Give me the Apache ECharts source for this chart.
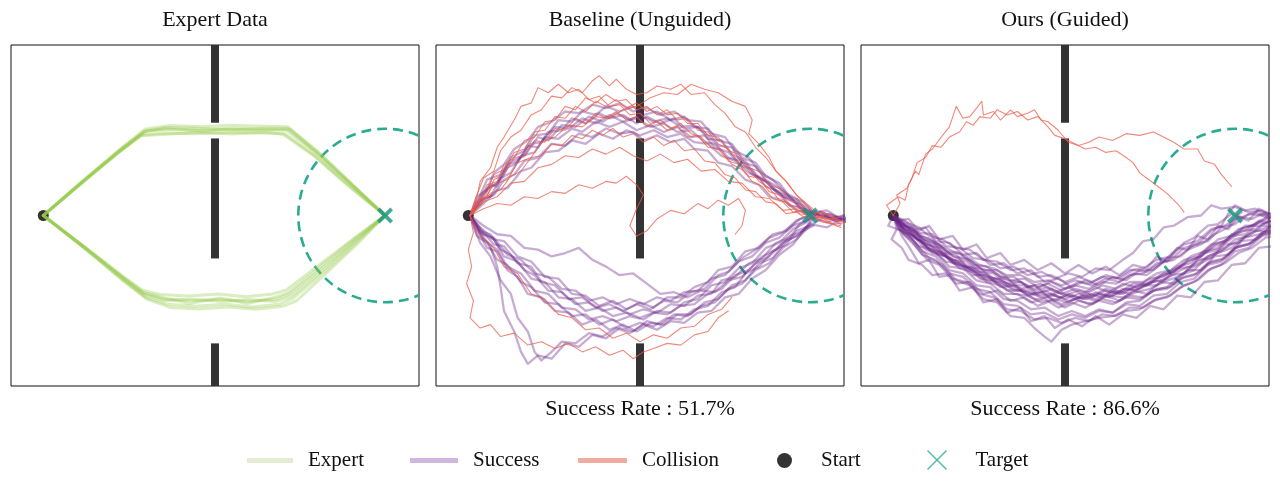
<!DOCTYPE html>
<html><head><meta charset="utf-8">
<script src="https://cdn.jsdelivr.net/npm/echarts@6/dist/echarts.min.js"></script>
<style>html,body{margin:0;padding:0;background:#fff}#c{width:1280px;height:490px}</style>
</head><body><div id="c"></div>
<script>
// ---------- data ----------
const panelTitles = ['Expert Data', 'Baseline (Unguided)', 'Ours (Guided)'];
const successRateTexts = [null, 'Success Rate : 51.7%', 'Success Rate : 86.6%'];
const legendNames = ['Expert', 'Success', 'Collision', 'Start', 'Target'];
const startPoint = [0.95, 0];
const targetPoint = [11, 0];
const targetRadius = 2.55;
const wallX = 6;
const wallSegments = [[5, 2.72], [2.26, -1.26], [-3.75, -5]];

// Trajectories: flat [x, y, x, y, ...] lists
const expertTrajs = [
  [0.95,0, 2.1,0.98, 3.2,1.9, 3.9,2.45, 4.6,2.55, 5.5,2.5, 6.5,2.56, 7.5,2.52, 8.1,2.5, 9.0,1.8, 10.0,0.9, 11.0,0],
  [0.95,0, 2.1,1.02, 3.25,1.98, 3.95,2.54, 4.7,2.64, 5.6,2.6, 6.4,2.65, 7.4,2.62, 8.15,2.6, 9.1,1.8, 10.05,0.9, 11.0,0],
  [0.95,0, 2.05,0.95, 3.15,1.84, 3.85,2.36, 4.5,2.42, 5.4,2.4, 6.6,2.44, 7.6,2.41, 8.05,2.4, 8.95,1.74, 9.95,0.86, 11.0,0],
  [0.95,0, 2.15,1.0, 3.3,1.95, 4.0,2.5, 4.8,2.52, 5.7,2.47, 6.3,2.53, 7.3,2.5, 8.2,2.53, 9.05,1.84, 10.0,0.94, 11.0,0],
  [0.95,0, 2.1,0.97, 3.2,1.92, 3.92,2.46, 4.55,2.58, 5.5,2.56, 6.5,2.51, 7.5,2.56, 8.12,2.56, 9.0,1.82, 10.02,0.9, 11.0,0],
  [0.95,0, 2.0,0.9, 3.1,1.82, 3.8,2.34, 4.6,2.38, 5.5,2.44, 6.5,2.39, 7.5,2.44, 8.0,2.38, 8.95,1.72, 9.95,0.85, 11.0,0],
  [0.95,0, 2.2,-0.95, 3.3,-1.82, 3.9,-2.28, 4.5,-2.45, 5.3,-2.5, 6.2,-2.46, 7.0,-2.52, 7.8,-2.45, 8.2,-2.3, 9.2,-1.5, 10.1,-0.75, 11.0,0],
  [0.95,0, 2.2,-1.0, 3.3,-1.9, 3.95,-2.4, 4.6,-2.6, 5.4,-2.66, 6.3,-2.6, 7.1,-2.68, 7.9,-2.6, 8.3,-2.42, 9.3,-1.58, 10.15,-0.8, 11.0,0],
  [0.95,0, 2.15,-0.9, 3.25,-1.75, 3.85,-2.18, 4.4,-2.32, 5.2,-2.36, 6.1,-2.3, 6.9,-2.38, 7.7,-2.3, 8.1,-2.18, 9.1,-1.42, 10.05,-0.7, 11.0,0],
  [0.95,0, 2.25,-1.02, 3.35,-1.95, 4.0,-2.45, 4.7,-2.7, 5.5,-2.74, 6.4,-2.68, 7.2,-2.75, 8.0,-2.66, 8.4,-2.5, 9.35,-1.62, 10.2,-0.82, 11.0,0],
  [0.95,0, 2.2,-0.97, 3.3,-1.86, 3.92,-2.32, 4.5,-2.5, 5.3,-2.45, 6.2,-2.52, 7.0,-2.46, 7.8,-2.52, 8.25,-2.36, 9.25,-1.54, 10.1,-0.78, 11.0,0],
  [0.95,0, 2.15,-0.93, 3.28,-1.8, 3.88,-2.25, 4.45,-2.4, 5.25,-2.58, 6.15,-2.42, 6.95,-2.58, 7.75,-2.4, 8.15,-2.26, 9.15,-1.46, 10.05,-0.72, 11.0,0]
];

const baselineSuccess = [
  [1.0,0, 1.3,0.35, 1.6,0.9, 1.8,0.85, 2.1,1.4, 2.4,1.55, 2.7,2.05, 3.0,2.0, 3.3,2.45, 3.7,2.5, 4.0,2.85, 4.4,2.7, 4.8,3.0, 5.1,2.85, 5.5,2.95, 5.9,2.7, 6.2,2.9, 6.6,2.7, 7.0,2.85, 7.3,2.55, 7.7,2.6, 8.0,2.25, 8.4,2.2, 8.7,1.8, 9.1,1.6, 9.4,1.15, 9.8,0.95, 10.2,0.55, 10.6,0.35, 10.9,0.05, 11.3,0.1, 11.7,-0.15, 12.1,-0.1],
  [1.0,0, 1.4,0.5, 1.7,0.6, 2.0,1.05, 2.3,1.2, 2.6,1.6, 3.0,1.7, 3.4,2.1, 3.8,2.05, 4.2,2.4, 4.6,2.3, 5.0,2.55, 5.4,2.4, 5.8,2.45, 6.1,2.2, 6.5,2.35, 6.9,2.15, 7.3,2.25, 7.6,1.95, 8.0,1.9, 8.3,1.55, 8.7,1.45, 9.1,1.05, 9.5,0.9, 9.8,0.55, 10.2,0.45, 10.6,0.15, 11.0,0.05],
  [1.0,0, 1.2,0.55, 1.5,0.75, 1.7,1.25, 2.0,1.5, 2.3,1.95, 2.7,2.2, 3.0,2.6, 3.4,2.75, 3.8,3.05, 4.2,3.0, 4.6,3.25, 5.0,3.15, 5.4,3.3, 5.8,3.05, 6.2,3.15, 6.6,2.95, 7.0,3.05, 7.4,2.8, 7.8,2.75, 8.1,2.4, 8.5,2.3, 8.8,1.9, 9.2,1.7, 9.5,1.3, 9.9,1.05, 10.3,0.65, 10.6,0.5, 10.9,0.15, 11.2,0.0, 11.6,0.05, 12.1,-0.2],
  [1.0,0, 1.3,0.45, 1.6,0.55, 1.9,1.1, 2.2,1.25, 2.5,1.75, 2.9,1.85, 3.2,2.3, 3.6,2.25, 4.0,2.55, 4.3,2.45, 4.7,2.75, 5.1,2.6, 5.5,2.75, 5.9,2.5, 6.3,2.65, 6.7,2.45, 7.1,2.6, 7.5,2.3, 7.9,2.35, 8.2,2.0, 8.6,1.85, 9.0,1.45, 9.3,1.35, 9.7,0.85, 10.1,0.7, 10.4,0.3, 10.8,0.2, 11.1,-0.05, 11.5,0.0, 11.9,-0.25],
  [1.0,0, 1.4,0.7, 1.8,0.95, 2.2,1.6, 2.6,1.75, 3.0,2.3, 3.3,2.2, 3.7,2.65, 4.1,2.6, 4.5,2.9, 4.9,2.75, 5.3,3.0, 5.7,2.8, 6.0,2.95, 6.4,2.75, 6.8,2.85, 7.2,2.6, 7.6,2.65, 8.0,2.35, 8.3,2.05, 8.7,2.0, 9.0,1.55, 9.4,1.45, 9.7,1.05, 10.1,0.8, 10.5,0.45, 10.8,0.3, 11.1,0.05],
  [1.0,0, 1.3,0.6, 1.5,1.05, 1.9,1.2, 2.2,1.7, 2.6,1.9, 2.9,2.35, 3.3,2.4, 3.6,2.8, 4.0,2.75, 4.3,3.05, 4.7,2.95, 5.0,3.2, 5.4,3.05, 5.8,3.2, 6.1,2.95, 6.5,3.05, 6.9,2.8, 7.3,2.9, 7.6,2.6, 8.0,2.55, 8.3,2.2, 8.7,2.1, 9.0,1.7, 9.4,1.55, 9.7,1.15, 10.1,0.95, 10.4,0.55, 10.8,0.4, 11.1,0.1, 11.5,0.15, 11.9,-0.1],
  [1.0,0, 1.4,0.35, 1.8,0.75, 2.1,0.8, 2.5,1.3, 2.8,1.4, 3.2,1.85, 3.6,1.9, 4.0,2.2, 4.4,2.1, 4.8,2.4, 5.2,2.25, 5.6,2.5, 6.0,2.35, 6.4,2.5, 6.8,2.3, 7.2,2.4, 7.6,2.15, 8.0,2.1, 8.4,1.75, 8.8,1.6, 9.2,1.25, 9.6,1.1, 10.0,0.7, 10.4,0.55, 10.8,0.2, 11.1,0.1, 11.5,-0.1, 12.0,0.0],
  [1.0,0, 1.2,0.3, 1.5,0.8, 1.8,0.95, 2.1,1.5, 2.4,1.6, 2.8,2.1, 3.1,2.15, 3.5,2.6, 3.9,2.55, 4.3,2.85, 4.7,2.7, 5.1,2.95, 5.5,2.75, 5.9,2.85, 6.3,2.6, 6.7,2.7, 7.1,2.45, 7.5,2.5, 7.9,2.15, 8.2,2.1, 8.6,1.7, 9.0,1.6, 9.3,1.2, 9.7,1.0, 10.1,0.6, 10.5,0.45, 10.8,0.1, 11.2,0.05, 11.6,-0.1, 12.1,-0.05],
  [1.0,0, 1.3,-0.45, 1.6,-0.55, 1.9,-1.0, 2.2,-1.15, 2.6,-1.6, 2.9,-1.75, 3.3,-2.2, 3.7,-2.25, 4.1,-2.6, 4.5,-2.55, 4.9,-2.8, 5.3,-2.7, 5.7,-2.9, 6.1,-2.75, 6.5,-2.85, 6.9,-2.6, 7.3,-2.65, 7.7,-2.35, 8.1,-2.3, 8.4,-1.9, 8.8,-1.8, 9.2,-1.4, 9.6,-1.25, 10.0,-0.8, 10.4,-0.65, 10.7,-0.25, 11.0,-0.1],
  [1.0,0, 1.2,-0.6, 1.5,-0.8, 1.8,-1.3, 2.1,-1.45, 2.5,-1.95, 2.8,-2.1, 3.2,-2.55, 3.6,-2.6, 4.0,-2.95, 4.4,-2.9, 4.8,-3.2, 5.2,-3.05, 5.6,-3.3, 6.0,-3.15, 6.4,-3.25, 6.8,-3.0, 7.2,-3.05, 7.6,-2.75, 8.0,-2.65, 8.4,-2.25, 8.8,-2.1, 9.1,-1.7, 9.5,-1.5, 9.9,-1.05, 10.3,-0.85, 10.6,-0.45, 11.0,-0.3, 11.4,-0.05, 11.9,-0.15],
  [1.0,0, 1.4,-0.5, 1.7,-0.85, 2.0,-0.9, 2.4,-1.4, 2.8,-1.5, 3.1,-1.95, 3.5,-2.05, 3.9,-2.45, 4.3,-2.4, 4.7,-2.7, 5.1,-2.6, 5.5,-2.8, 5.9,-2.6, 6.3,-2.75, 6.7,-2.5, 7.1,-2.55, 7.5,-2.25, 7.9,-2.15, 8.3,-1.75, 8.6,-1.65, 9.0,-1.25, 9.4,-1.0, 9.8,-0.65, 10.2,-0.5, 10.6,-0.15, 11.0,0.0],
  [1.0,0, 1.3,-0.8, 1.6,-1.2, 1.9,-1.9, 2.2,-2.3, 2.4,-3.0, 2.7,-3.4, 2.9,-4.0, 3.1,-4.25, 3.4,-4.0, 3.7,-3.7, 4.1,-3.75, 4.5,-3.45, 4.9,-3.55, 5.3,-3.3, 5.7,-3.45, 6.1,-3.2, 6.5,-3.35, 6.9,-3.1, 7.3,-3.15, 7.7,-2.85, 8.1,-2.8, 8.5,-2.4, 8.9,-2.3, 9.3,-1.85, 9.7,-1.6, 10.1,-1.15, 10.5,-0.85, 10.8,-0.45, 11.1,-0.3],
  [1.0,0, 1.3,-0.5, 1.6,-0.9, 1.8,-1.5, 1.9,-2.1, 2.0,-2.8, 2.3,-3.4, 2.5,-4.0, 2.7,-4.35, 3.0,-4.1, 3.4,-4.2, 3.8,-3.75, 4.2,-3.85, 4.6,-3.5, 5.0,-3.6, 5.4,-3.3, 5.8,-3.4, 6.2,-3.1, 6.6,-3.2, 7.0,-2.9, 7.4,-2.95, 7.8,-2.65, 8.2,-2.55, 8.6,-2.15, 9.0,-2.0, 9.4,-1.6, 9.8,-1.4, 10.2,-0.95, 10.6,-0.7, 11.0,-0.3],
  [1.0,0, 1.3,-0.35, 1.7,-0.7, 2.0,-0.75, 2.4,-1.2, 2.8,-1.35, 3.2,-1.8, 3.6,-1.85, 4.0,-2.3, 4.4,-2.35, 4.8,-2.65, 5.2,-2.5, 5.6,-2.75, 6.0,-2.55, 6.4,-2.7, 6.8,-2.4, 7.2,-2.4, 7.6,-2.1, 8.0,-1.95, 8.3,-1.6, 8.7,-1.5, 9.1,-1.05, 9.5,-0.95, 9.9,-0.55, 10.3,-0.45, 10.7,-0.1, 11.1,0.05, 11.6,-0.05, 12.1,-0.1],
  [1.0,0, 1.4,-0.7, 1.8,-1.0, 2.1,-1.5, 2.5,-1.7, 2.9,-2.2, 3.3,-2.3, 3.7,-2.7, 4.1,-2.75, 4.5,-3.05, 4.9,-2.95, 5.3,-3.1, 5.7,-2.95, 6.1,-3.05, 6.5,-2.8, 6.9,-2.85, 7.3,-2.55, 7.7,-2.45, 8.1,-2.05, 8.5,-1.95, 8.9,-1.55, 9.3,-1.4, 9.7,-0.95, 10.1,-0.8, 10.5,-0.4, 10.9,-0.2, 11.2,0.05],
  [1.0,0, 1.4,-0.3, 1.8,-0.55, 2.2,-0.6, 2.6,-0.95, 3.0,-1.0, 3.4,-1.2, 3.8,-1.1, 4.2,-0.95, 4.6,-1.3, 5.0,-1.5, 5.4,-1.75, 5.8,-1.7, 6.2,-2.0, 6.6,-2.3, 7.0,-2.25, 7.4,-2.4, 7.8,-2.2, 8.2,-2.25, 8.6,-1.9, 9.0,-1.8, 9.4,-1.4, 9.8,-1.2, 10.2,-0.8, 10.6,-0.6, 11.0,-0.25, 11.5,-0.35, 11.9,-0.1],
  [1.0,0, 1.2,-0.4, 1.5,-0.95, 1.8,-1.05, 2.1,-1.6, 2.4,-1.8, 2.7,-2.3, 3.1,-2.4, 3.5,-2.8, 3.9,-2.85, 4.3,-3.2, 4.7,-3.05, 5.1,-3.35, 5.5,-3.2, 5.9,-3.4, 6.3,-3.15, 6.7,-3.2, 7.1,-2.9, 7.5,-2.9, 7.9,-2.55, 8.3,-2.45, 8.7,-2.05, 9.1,-1.9, 9.5,-1.4, 9.9,-1.25, 10.3,-0.75, 10.7,-0.55, 11.0,-0.2],
  [1.0,0, 1.3,-0.5, 1.7,-0.7, 2.0,-1.2, 2.4,-1.35, 2.8,-1.85, 3.2,-1.95, 3.6,-2.4, 4.0,-2.45, 4.4,-2.8, 4.8,-2.7, 5.2,-2.95, 5.6,-2.85, 6.0,-3.0, 6.4,-2.85, 6.8,-2.9, 7.2,-2.65, 7.6,-2.6, 8.0,-2.3, 8.4,-2.15, 8.8,-1.75, 9.2,-1.6, 9.6,-1.2, 10.0,-1.0, 10.4,-0.6, 10.8,-0.45, 11.1,-0.1, 11.5,-0.2, 12.0,0.0],
  [1.0,0, 1.4,-0.55, 1.7,-0.65, 2.1,-1.15, 2.5,-1.3, 2.9,-1.7, 3.3,-1.8, 3.7,-2.15, 4.1,-2.2, 4.5,-2.5, 4.9,-2.4, 5.3,-2.6, 5.7,-2.45, 6.1,-2.6, 6.5,-2.4, 6.9,-2.5, 7.3,-2.25, 7.7,-2.2, 8.1,-1.85, 8.5,-1.75, 8.9,-1.35, 9.3,-1.2, 9.7,-0.8, 10.1,-0.65, 10.5,-0.3, 10.9,-0.15, 11.3,0.1, 11.8,-0.05, 12.1,-0.2]
];

const baselineCollision = [
  [1.0,0, 1.2,0.6, 1.4,1.1, 1.7,1.3, 1.9,1.9, 2.2,2.3, 2.5,2.5, 2.8,2.95, 3.1,3.1, 3.4,3.5, 3.7,3.45, 4.0,3.75, 4.3,3.6, 4.6,3.95, 4.8,4.1, 5.1,3.8, 5.3,4.0, 5.6,3.7, 5.9,3.55, 6.2,3.6, 6.5,3.8, 6.9,3.7, 7.2,3.85, 7.5,3.55, 7.9,3.6, 8.2,3.25, 8.5,3.0, 8.8,2.6, 9.1,2.45, 9.4,2.0, 9.7,1.7, 10.0,1.3, 10.3,1.0, 10.6,0.6, 10.9,0.35, 11.2,0.1, 11.5,-0.1, 11.9,-0.05],
  [1.0,0, 1.3,0.45, 1.5,0.9, 1.8,1.0, 2.0,1.5, 2.3,1.7, 2.6,2.2, 2.9,2.3, 3.2,2.75, 3.5,2.8, 3.8,3.2, 4.1,3.1, 4.4,3.45, 4.7,3.3, 5.0,3.55, 5.3,3.35, 5.6,3.4, 5.9,3.1, 6.2,3.2, 6.5,2.95, 6.8,3.1, 7.1,2.8, 7.4,2.85, 7.7,2.5, 8.0,2.45, 8.3,2.1, 8.6,1.95, 8.9,1.55, 9.2,1.4, 9.5,1.0, 9.8,0.8, 10.1,0.45, 10.4,0.35, 10.7,0.05, 11.0,0.0, 11.4,-0.2, 11.9,-0.3],
  [1.0,0, 1.3,0.3, 1.6,0.65, 1.9,0.75, 2.2,1.15, 2.5,1.3, 2.8,1.7, 3.1,1.75, 3.4,2.1, 3.7,2.05, 4.0,2.35, 4.3,2.25, 4.6,2.5, 4.9,2.35, 5.2,2.55, 5.5,2.3, 5.8,2.4, 6.1,2.15, 6.4,2.3, 6.7,2.05, 7.0,2.2, 7.3,1.9, 7.6,1.95, 7.9,1.6, 8.2,1.55, 8.5,1.2, 8.8,1.1, 9.1,0.75, 9.4,0.7, 9.7,0.4, 10.0,0.35, 10.3,0.05, 10.6,0.1, 10.9,-0.1, 11.3,-0.05, 11.7,-0.25, 12.1,-0.2],
  [1.0,0, 1.2,0.5, 1.3,1.0, 1.6,1.4, 1.8,2.0, 2.0,2.3, 2.3,2.8, 2.5,3.2, 2.8,3.3, 3.0,3.75, 3.3,3.6, 3.6,3.85, 3.9,3.6, 4.2,3.7, 4.5,3.4, 4.8,3.5, 5.1,3.2, 5.4,3.25, 5.7,2.95, 6.0,3.0, 6.3,2.7, 6.6,2.8, 6.9,2.55, 7.2,2.7, 7.5,2.4, 7.8,2.3, 8.1,2.0, 8.4,1.9, 8.7,1.5, 9.0,1.35, 9.3,1.0, 9.6,0.85, 9.9,0.5, 10.2,0.4, 10.5,0.1, 10.8,0.15, 11.1,-0.1, 11.5,0.05, 11.9,-0.15],
  [1.0,0, 1.4,0.2, 1.8,0.35, 2.2,0.3, 2.6,0.55, 3.0,0.5, 3.4,0.7, 3.8,0.65, 4.2,0.9, 4.6,0.8, 5.0,1.0, 5.3,0.95, 5.6,1.15, 5.9,0.9, 6.1,0.6, 5.9,0.2, 5.7,-0.3, 5.9,-0.6, 6.2,-0.45, 6.5,-0.1, 6.9,0.15, 7.3,0.05, 7.7,0.35, 8.0,0.2, 8.3,0.45, 8.6,0.3, 8.9,0.5, 9.1,0.15, 9.0,-0.3, 8.8,-0.55],
  [1.0,0, 1.1,-0.5, 0.95,-1.0, 1.05,-1.5, 0.9,-2.0, 1.1,-2.5, 1.0,-3.0, 1.3,-3.3, 1.6,-3.2, 1.9,-3.55, 2.3,-3.45, 2.7,-3.8, 3.1,-3.7, 3.5,-3.9, 3.9,-3.75, 4.3,-4.0, 4.7,-3.85, 5.1,-4.1, 5.5,-3.95, 5.8,-4.2, 6.1,-4.0, 6.4,-3.9, 6.8,-3.75, 7.2,-3.8, 7.6,-3.5, 8.0,-3.4, 8.3,-3.0, 8.6,-2.8],
  [1.0,0, 1.3,-0.6, 1.7,-0.95, 2.0,-1.5, 2.4,-1.7, 2.8,-2.3, 3.2,-2.45, 3.6,-2.9, 4.0,-3.0, 4.4,-3.35, 4.8,-3.3, 5.2,-3.6, 5.6,-3.45, 6.0,-3.7, 6.4,-3.5, 6.8,-3.6, 7.2,-3.3, 7.6,-3.25, 8.0,-2.9, 8.4,-2.75, 8.7,-2.4],
  [1.0,0, 1.4,0.4, 1.8,0.55, 2.2,0.95, 2.6,1.0, 3.0,1.4, 3.4,1.5, 3.8,1.75, 4.2,1.7, 4.6,1.95, 5.0,1.8, 5.4,2.0, 5.8,1.75, 6.2,1.6, 6.6,1.8, 7.0,1.55, 7.4,1.65, 7.8,1.3, 8.2,1.35, 8.6,1.0, 9.0,0.95, 9.4,0.55, 9.8,0.5, 10.2,0.15, 10.6,0.2, 11.0,-0.05],
  [1.0,0, 1.2,0.4, 1.5,0.55, 1.7,1.05, 2.0,1.2, 2.3,1.7, 2.6,1.75, 2.9,2.2, 3.2,2.15, 3.5,2.55, 3.8,2.5, 4.1,2.85, 4.4,2.7, 4.7,3.0, 5.0,2.85, 5.3,3.05, 5.6,2.8, 5.9,2.9, 6.2,2.6, 6.5,2.75, 6.8,2.5, 7.1,2.6, 7.4,2.3, 7.7,2.35, 8.0,2.0, 8.3,1.95, 8.6,1.6, 8.9,1.5, 9.2,1.15, 9.5,1.1, 9.8,0.7, 10.1,0.6, 10.4,0.3, 10.7,0.25, 11.0,0.0, 11.4,-0.15, 11.9,-0.35],
  [1.0,0, 1.3,0.5, 1.5,0.7, 1.7,1.2, 2.0,1.35, 2.3,1.85, 2.6,1.95, 2.9,2.45, 3.2,2.5, 3.5,2.9, 3.8,2.85, 4.1,3.2, 4.4,3.05, 4.7,3.35, 5.0,3.2, 5.3,3.4, 5.6,3.15, 5.9,3.3, 6.2,3.05, 6.5,3.2, 6.8,2.95, 7.1,3.0, 7.4,2.7, 7.7,2.7, 8.0,2.35, 8.3,2.3, 8.6,1.9, 8.9,1.8, 9.2,1.4, 9.5,1.3, 9.8,0.9, 10.1,0.8, 10.4,0.45, 10.7,0.35, 11.0,0.05, 11.4,0.1, 11.8,-0.15],
  [1.0,0, 1.4,0.45, 1.7,0.9, 2.1,1.05, 2.4,1.55, 2.8,1.7, 3.1,2.15, 3.5,2.3, 3.9,2.65, 4.3,2.6, 4.7,2.9, 5.1,2.85, 5.5,3.1, 5.9,3.2, 6.3,3.45, 6.7,3.6, 7.1,3.55, 7.5,3.85, 7.9,3.7, 8.3,3.6, 8.7,3.35, 9.1,3.2, 9.3,2.8, 9.2,2.4, 9.5,2.1, 9.8,1.7, 10.0,1.3, 10.3,1.0, 10.6,0.6, 10.9,0.3, 11.2,0.0, 11.6,-0.1, 12.0,-0.2]
];

const guidedSuccess = [
  [0.95,0, 1.2,-0.3, 1.5,-0.35, 1.8,-0.7, 2.1,-0.75, 2.4,-1.1, 2.8,-1.15, 3.1,-1.5, 3.5,-1.55, 3.9,-1.85, 4.3,-1.85, 4.7,-2.15, 5.1,-2.05, 5.5,-2.35, 5.9,-2.25, 6.3,-2.45, 6.7,-2.3, 7.1,-2.4, 7.5,-2.2, 7.9,-2.3, 8.3,-2.05, 8.7,-2.05, 9.1,-1.75, 9.5,-1.7, 9.9,-1.3, 10.3,-1.25, 10.7,-0.85, 11.1,-0.8, 11.5,-0.45, 11.9,-0.45, 12.2,-0.2],
  [0.95,0, 1.3,-0.2, 1.7,-0.35, 2.0,-0.6, 2.4,-0.7, 2.8,-0.95, 3.2,-1.0, 3.6,-1.3, 4.0,-1.35, 4.4,-1.6, 4.8,-1.55, 5.2,-1.8, 5.6,-1.75, 6.0,-1.95, 6.4,-1.8, 6.8,-1.95, 7.2,-1.75, 7.6,-1.85, 8.0,-1.6, 8.4,-1.65, 8.8,-1.4, 9.2,-1.3, 9.6,-1.0, 10.0,-0.85, 10.4,-0.55, 10.8,-0.35, 11.0,-0.05, 11.2,0.1],
  [0.95,0, 0.8,-0.3, 1.2,-0.45, 1.5,-0.7, 1.8,-1.05, 2.2,-1.2, 2.6,-1.6, 3.0,-1.7, 3.4,-2.05, 3.8,-2.1, 4.2,-2.45, 4.6,-2.5, 5.0,-2.75, 5.4,-2.7, 5.8,-2.95, 6.2,-2.8, 6.6,-2.95, 7.0,-2.75, 7.4,-2.85, 7.8,-2.6, 8.2,-2.65, 8.6,-2.35, 9.0,-2.3, 9.4,-1.95, 9.8,-1.85, 10.2,-1.45, 10.6,-1.35, 11.0,-0.95, 11.4,-0.85, 11.8,-0.5, 12.2,-0.45],
  [0.95,0, 1.3,-0.5, 1.6,-0.8, 2.0,-1.25, 2.4,-1.45, 2.8,-1.9, 3.2,-2.05, 3.6,-2.45, 4.0,-2.55, 4.4,-2.95, 4.8,-3.0, 5.1,-3.3, 5.4,-3.55, 5.6,-3.7, 5.9,-3.35, 6.2,-3.2, 6.6,-3.1, 7.0,-3.0, 7.4,-2.95, 7.8,-2.8, 8.2,-2.75, 8.6,-2.5, 9.0,-2.4, 9.4,-2.1, 9.8,-1.95, 10.2,-1.6, 10.6,-1.45, 11.0,-1.05, 11.4,-0.95, 11.8,-0.6, 12.2,-0.5],
  [0.95,0, 1.25,-0.35, 1.6,-0.5, 1.9,-0.85, 2.3,-0.95, 2.7,-1.3, 3.1,-1.35, 3.5,-1.65, 3.9,-1.7, 4.3,-2.0, 4.7,-1.95, 5.1,-2.2, 5.5,-2.1, 5.9,-2.3, 6.3,-2.15, 6.7,-2.25, 7.1,-2.05, 7.5,-2.15, 7.9,-1.95, 8.3,-1.95, 8.7,-1.7, 9.1,-1.6, 9.5,-1.3, 9.9,-1.2, 10.3,-0.85, 10.7,-0.75, 11.1,-0.4, 11.5,-0.3, 11.9,-0.1, 12.2,-0.05],
  [0.95,0, 1.3,-0.4, 1.6,-0.65, 2.0,-0.95, 2.3,-1.05, 2.7,-1.4, 3.1,-1.5, 3.5,-1.85, 3.9,-1.9, 4.3,-2.2, 4.7,-2.2, 5.1,-2.45, 5.5,-2.4, 5.9,-2.6, 6.3,-2.45, 6.7,-2.6, 7.1,-2.45, 7.5,-2.55, 7.9,-2.35, 8.3,-2.4, 8.7,-2.15, 9.1,-2.1, 9.5,-1.8, 9.9,-1.7, 10.3,-1.35, 10.7,-1.25, 11.1,-0.9, 11.5,-0.8, 11.9,-0.5, 12.2,-0.4],
  [0.95,0, 1.2,-0.25, 1.6,-0.45, 1.9,-0.75, 2.3,-0.85, 2.7,-1.2, 3.1,-1.25, 3.5,-1.55, 3.9,-1.65, 4.3,-1.9, 4.7,-1.95, 5.1,-2.15, 5.5,-2.0, 5.9,-2.2, 6.3,-2.05, 6.7,-2.15, 7.1,-1.95, 7.5,-2.0, 7.9,-1.75, 8.3,-1.7, 8.7,-1.4, 9.1,-1.3, 9.5,-0.95, 9.9,-0.85, 10.3,-0.45, 10.6,-0.3, 10.8,0.05, 11.0,0.3, 11.3,0.15, 11.6,0.2, 12.0,-0.05],
  [0.95,0, 1.1,-0.4, 1.4,-0.55, 1.7,-0.9, 2.1,-1.0, 2.5,-1.35, 2.9,-1.4, 3.3,-1.75, 3.7,-1.75, 4.1,-2.1, 4.5,-2.05, 4.9,-2.35, 5.3,-2.25, 5.7,-2.5, 6.1,-2.3, 6.5,-2.45, 6.9,-2.25, 7.3,-2.4, 7.7,-2.15, 8.1,-2.2, 8.5,-1.95, 8.9,-1.9, 9.3,-1.55, 9.7,-1.5, 10.1,-1.1, 10.5,-1.0, 10.9,-0.6, 11.3,-0.55, 11.7,-0.2, 12.1,-0.25],
  [0.95,0, 1.3,-0.3, 1.7,-0.6, 2.1,-0.7, 2.5,-1.05, 2.9,-1.1, 3.3,-1.45, 3.7,-1.5, 4.1,-1.8, 4.5,-1.8, 4.9,-2.1, 5.3,-2.0, 5.7,-2.25, 6.1,-2.1, 6.5,-2.3, 6.9,-2.1, 7.3,-2.25, 7.7,-2.0, 8.1,-2.1, 8.5,-1.85, 8.9,-1.8, 9.3,-1.5, 9.7,-1.4, 10.1,-1.05, 10.5,-0.95, 10.9,-0.55, 11.3,-0.45, 11.7,-0.15, 12.2,-0.2],
  [0.95,0, 1.25,-0.5, 1.55,-0.6, 1.9,-1.0, 2.2,-1.1, 2.6,-1.5, 3.0,-1.55, 3.4,-1.9, 3.8,-2.0, 4.2,-2.3, 4.6,-2.3, 5.0,-2.55, 5.4,-2.45, 5.8,-2.7, 6.2,-2.55, 6.6,-2.7, 7.0,-2.5, 7.4,-2.6, 7.8,-2.4, 8.2,-2.45, 8.6,-2.2, 9.0,-2.15, 9.4,-1.85, 9.8,-1.75, 10.2,-1.4, 10.6,-1.3, 11.0,-0.95, 11.4,-0.85, 11.8,-0.55, 12.2,-0.5],
  [0.95,0, 1.3,-0.3, 1.6,-0.55, 2.0,-0.8, 2.4,-0.95, 2.8,-1.25, 3.2,-1.3, 3.6,-1.6, 4.0,-1.6, 4.4,-1.9, 4.8,-1.85, 5.2,-2.1, 5.6,-1.95, 6.0,-2.15, 6.4,-1.95, 6.8,-2.05, 7.2,-1.85, 7.6,-1.95, 8.0,-1.7, 8.4,-1.75, 8.8,-1.45, 9.1,-1.15, 9.5,-0.8, 9.8,-0.65, 10.2,-0.3, 10.5,-0.25, 10.9,0.05, 11.2,-0.05, 11.6,0.1, 12.0,-0.1],
  [0.95,0, 1.2,-0.35, 1.5,-0.55, 1.85,-0.8, 2.2,-0.95, 2.6,-1.25, 3.0,-1.4, 3.4,-1.6, 3.8,-1.8, 4.2,-1.95, 4.6,-2.1, 5.0,-2.3, 5.4,-2.2, 5.8,-2.4, 6.2,-2.35, 6.6,-2.45, 7.0,-2.3, 7.4,-2.35, 7.8,-2.15, 8.2,-2.15, 8.6,-1.95, 9.0,-1.85, 9.4,-1.6, 9.8,-1.45, 10.2,-1.2, 10.6,-1.0, 11.0,-0.8, 11.4,-0.55, 11.8,-0.4, 12.2,-0.25],
  [0.95,0, 1.3,-0.45, 1.7,-0.7, 2.1,-1.1, 2.5,-1.2, 2.9,-1.55, 3.3,-1.65, 3.7,-1.95, 4.1,-2.05, 4.5,-2.3, 4.9,-2.35, 5.3,-2.55, 5.7,-2.45, 6.1,-2.55, 6.5,-2.35, 6.9,-2.45, 7.3,-2.25, 7.7,-2.3, 8.1,-2.05, 8.5,-2.0, 8.9,-1.7, 9.3,-1.55, 9.7,-1.2, 10.1,-1.05, 10.5,-0.7, 10.9,-0.6, 11.3,-0.3, 11.7,-0.3, 12.2,-0.1],
  [0.95,0, 1.2,-0.5, 1.5,-0.75, 1.8,-1.15, 2.2,-1.3, 2.6,-1.7, 3.0,-1.8, 3.4,-2.15, 3.8,-2.25, 4.2,-2.6, 4.6,-2.65, 5.0,-2.9, 5.4,-2.85, 5.8,-3.05, 6.2,-2.9, 6.6,-3.0, 7.0,-2.8, 7.4,-2.85, 7.8,-2.55, 8.2,-2.5, 8.6,-2.2, 9.0,-2.1, 9.4,-1.75, 9.8,-1.6, 10.2,-1.2, 10.6,-1.05, 11.0,-0.7, 11.4,-0.6, 11.8,-0.3, 12.2,-0.3],
  [0.95,0, 1.3,-0.25, 1.7,-0.5, 2.1,-0.55, 2.5,-0.9, 2.9,-0.95, 3.3,-1.25, 3.7,-1.3, 4.1,-1.55, 4.5,-1.5, 4.9,-1.75, 5.3,-1.65, 5.7,-1.85, 6.1,-1.7, 6.5,-1.8, 6.9,-1.55, 7.3,-1.6, 7.7,-1.3, 8.0,-1.1, 8.3,-0.75, 8.6,-0.7, 8.9,-0.35, 9.2,-0.3, 9.6,-0.05, 10.0,0.0, 10.3,0.3, 10.6,0.2, 11.0,0.25, 11.4,0.1, 11.8,0.15, 12.1,-0.1],
  [0.95,0, 1.15,-0.3, 1.45,-0.6, 1.75,-0.75, 2.1,-1.05, 2.5,-1.2, 2.9,-1.45, 3.3,-1.6, 3.7,-1.9, 4.1,-1.95, 4.5,-2.2, 4.9,-2.2, 5.3,-2.4, 5.7,-2.35, 6.1,-2.5, 6.5,-2.4, 6.9,-2.5, 7.3,-2.35, 7.7,-2.4, 8.1,-2.25, 8.5,-2.15, 8.9,-1.95, 9.3,-1.8, 9.7,-1.55, 10.1,-1.35, 10.5,-1.1, 10.9,-0.95, 11.3,-0.65, 11.7,-0.55, 12.2,-0.35],
  [0.95,0, 1.35,-0.35, 1.65,-0.7, 2.0,-0.85, 2.4,-1.15, 2.8,-1.35, 3.2,-1.55, 3.6,-1.75, 4.0,-1.95, 4.4,-2.1, 4.8,-2.25, 5.2,-2.35, 5.6,-2.3, 6.0,-2.45, 6.4,-2.3, 6.8,-2.4, 7.2,-2.2, 7.6,-2.3, 8.0,-2.1, 8.4,-2.05, 8.8,-1.8, 9.2,-1.65, 9.6,-1.35, 10.0,-1.2, 10.4,-0.85, 10.8,-0.7, 11.2,-0.4, 11.6,-0.25, 12.0,0.0, 12.2,-0.15],
  [0.95,0, 1.25,-0.55, 1.6,-0.9, 1.95,-1.3, 2.3,-1.45, 2.7,-1.85, 3.1,-1.95, 3.5,-2.3, 3.9,-2.4, 4.3,-2.75, 4.7,-2.8, 5.1,-3.05, 5.5,-3.0, 5.9,-3.15, 6.3,-3.0, 6.7,-3.1, 7.1,-2.9, 7.5,-2.95, 7.9,-2.7, 8.3,-2.7, 8.7,-2.45, 9.1,-2.35, 9.5,-2.05, 9.9,-1.9, 10.3,-1.55, 10.7,-1.4, 11.1,-1.1, 11.5,-0.95, 11.9,-0.65, 12.2,-0.6],
  [0.95,0, 1.2,-0.2, 1.55,-0.45, 1.9,-0.65, 2.3,-0.85, 2.7,-1.05, 3.1,-1.2, 3.5,-1.45, 3.9,-1.55, 4.3,-1.75, 4.7,-1.75, 5.1,-1.95, 5.5,-1.9, 5.9,-2.05, 6.3,-1.9, 6.7,-2.0, 7.1,-1.8, 7.5,-1.85, 7.9,-1.6, 8.3,-1.55, 8.7,-1.3, 9.1,-1.2, 9.5,-0.85, 9.9,-0.75, 10.3,-0.4, 10.7,-0.3, 11.1,-0.05, 11.5,-0.1, 11.9,0.1, 12.2,-0.05],
  [0.95,0, 1.3,-0.4, 1.6,-0.6, 2.0,-1.0, 2.4,-1.1, 2.8,-1.45, 3.2,-1.55, 3.6,-1.8, 4.0,-1.85, 4.4,-2.05, 4.8,-2.05, 5.2,-2.3, 5.6,-2.15, 6.0,-2.35, 6.4,-2.2, 6.8,-2.35, 7.2,-2.15, 7.6,-2.25, 8.0,-2.0, 8.4,-2.0, 8.8,-1.75, 9.2,-1.65, 9.6,-1.35, 10.0,-1.2, 10.4,-0.9, 10.8,-0.75, 11.2,-0.45, 11.6,-0.4, 12.0,-0.15, 12.2,-0.2],
  [0.95,0, 1.1,-0.15, 1.4,-0.1, 1.7,-0.45, 2.0,-0.3, 2.3,-0.7, 2.7,-0.6, 3.0,-1.0, 3.4,-0.85, 3.7,-1.25, 4.1,-1.1, 4.4,-1.45, 4.8,-1.3, 5.2,-1.6, 5.6,-1.4, 6.0,-1.7, 6.4,-1.45, 6.8,-1.7, 7.2,-1.5, 7.6,-1.75, 8.0,-1.45, 8.4,-1.55, 8.7,-1.2, 9.0,-1.35, 9.3,-0.95, 9.6,-1.0, 9.9,-0.6, 10.2,-0.7, 10.5,-0.3, 10.8,-0.4, 11.1,-0.05, 11.4,-0.15, 11.7,0.2, 12.0,0.05],
  [0.95,0, 1.2,-0.6, 1.4,-0.9, 1.7,-1.4, 2.0,-1.3, 2.3,-1.8, 2.6,-1.75, 2.9,-2.2, 3.3,-2.1, 3.6,-2.55, 4.0,-2.45, 4.3,-2.85, 4.7,-2.7, 5.0,-3.1, 5.4,-2.95, 5.7,-3.3, 6.1,-3.05, 6.5,-3.25, 6.9,-2.95, 7.3,-3.2, 7.7,-2.9, 8.1,-3.0, 8.5,-2.65, 8.9,-2.75, 9.3,-2.35, 9.7,-2.4, 10.1,-1.95, 10.5,-1.9, 10.9,-1.45, 11.3,-1.4, 11.7,-0.95, 12.1,-0.9],
  [0.95,0, 1.05,-0.4, 0.9,-0.7, 1.2,-0.95, 1.4,-1.3, 1.8,-1.45, 2.1,-1.75, 2.5,-1.7, 2.8,-2.0, 3.2,-1.95, 3.6,-2.3, 4.0,-2.2, 4.4,-2.5, 4.8,-2.4, 5.2,-2.65, 5.6,-2.5, 6.0,-2.7, 6.4,-2.5, 6.8,-2.6, 7.2,-2.35, 7.6,-2.5, 8.0,-2.2, 8.4,-2.3, 8.8,-1.95, 9.2,-2.0, 9.6,-1.6, 10.0,-1.6, 10.4,-1.2, 10.8,-1.15, 11.2,-0.75, 11.6,-0.7, 12.0,-0.35, 12.2,-0.4],
  [0.95,0, 1.3,-0.15, 1.6,-0.4, 1.9,-0.35, 2.2,-0.75, 2.6,-0.8, 3.0,-1.15, 3.4,-1.1, 3.8,-1.45, 4.2,-1.4, 4.6,-1.7, 5.0,-1.6, 5.4,-1.95, 5.8,-1.85, 6.2,-2.1, 6.6,-1.9, 7.0,-2.05, 7.4,-1.8, 7.8,-1.9, 8.2,-1.6, 8.6,-1.6, 9.0,-1.25, 9.4,-1.2, 9.8,-0.85, 10.2,-0.75, 10.6,-0.35, 11.0,-0.25, 11.4,0.05, 11.8,0.0, 12.2,0.1]
];

const guidedCollision = [
  [0.95,0, 0.75,0.3, 1.1,0.55, 1.3,0.45, 1.4,0.9, 1.6,1.3, 1.7,1.2, 1.9,1.8, 2.1,1.95, 2.4,2.35, 2.6,2.6, 2.8,3.2, 3.0,2.85, 3.2,2.9, 3.4,3.15, 3.55,3.35, 3.6,2.95, 3.9,3.05, 4.1,2.8, 4.4,3.1, 4.6,2.9, 4.9,3.0, 5.1,3.1, 5.3,2.8, 5.5,2.75, 5.8,2.5, 6.1,2.15, 6.4,2.05, 6.7,2.15, 7.0,2.3, 7.4,2.2, 7.8,2.4, 8.2,2.35, 8.6,2.45, 8.9,2.3, 9.2,2.15, 9.5,1.95, 9.9,1.95, 10.1,1.6, 10.4,1.5, 10.6,1.2, 10.9,0.85],
  [0.95,0, 1.15,0.35, 1.05,0.6, 1.35,0.8, 1.5,1.1, 1.65,1.55, 1.9,1.7, 2.1,2.05, 2.35,2.0, 2.6,2.3, 2.9,2.45, 3.1,2.75, 3.3,2.65, 3.5,2.9, 3.8,2.85, 4.0,3.1, 4.3,2.95, 4.6,3.05, 4.9,2.8, 5.2,2.9, 5.5,2.6, 5.7,2.35, 6.0,2.25, 6.3,2.1, 6.6,1.95, 6.9,2.0, 7.2,1.85, 7.5,1.9, 7.8,1.7, 8.0,1.55, 8.2,1.25, 8.4,1.1, 8.6,0.95, 8.8,0.8, 9.0,0.65, 9.2,0.45, 9.35,0.3, 9.5,0.1]
];

// ---------- build ----------
const FONT = 'Liberation Serif';
const gridLefts = [11, 436, 861];
const toPairs = f => { const o = []; for (let i = 0; i + 1 < f.length; i += 2) o.push([f[i], f[i + 1]]); return o; };
const X_THICK = 'path://M2,0L6,4L10,0L12,2L8,6L12,10L10,12L6,8L2,12L0,10L4,6L0,2Z';
const X_THIN = 'path://M0,0L10,10M10,0L0,10';

const COLORS = {
  expert: 'rgba(145,200,70,0.33)',
  success: 'rgba(108,38,136,0.38)',
  collision: 'rgba(234,92,72,0.72)',
  wall: '#333333',
  circle: '#2aab92',
  target: '#17917e'
};

const grids = gridLefts.map(l => ({ left: l, top: 45, width: 408, height: 341, show: true, borderColor: '#111', borderWidth: 1, backgroundColor: '#fff' }));
const xAxes = gridLefts.map((_, i) => ({ gridIndex: i, type: 'value', min: 0, max: 12, show: false }));
const yAxes = gridLefts.map((_, i) => ({ gridIndex: i, type: 'value', min: -5, max: 5, show: false }));

const series = [];
function addTraj(name, list, gi, color, width, z) {
  list.forEach(t => series.push({
    type: 'line', name, xAxisIndex: gi, yAxisIndex: gi, data: toPairs(t),
    symbol: 'none', showSymbol: false, silent: true, clip: true, z,
    lineStyle: { color, width, join: 'round', cap: 'round' }, itemStyle: { color }
  }));
}

for (let gi = 0; gi < 3; gi++) {
  wallSegments.forEach(seg => series.push({
    type: 'line', name: 'wall', xAxisIndex: gi, yAxisIndex: gi,
    data: [[wallX, seg[0]], [wallX, seg[1]]], symbol: 'none', silent: true, z: 2,
    lineStyle: { color: COLORS.wall, width: 8, cap: 'butt' }
  }));
  series.push({
    type: 'custom', name: 'goal', xAxisIndex: gi, yAxisIndex: gi, silent: true, z: 3,
    data: [[targetPoint[0], targetPoint[1], targetRadius]],
    renderItem: (params, api) => {
      const c = api.coord([api.value(0), api.value(1)]);
      const r = api.size([api.value(2), 0])[0];
      const cs = params.coordSys;
      return {
        type: 'circle', shape: { cx: c[0], cy: c[1], r },
        style: { fill: 'none', stroke: COLORS.circle, lineWidth: 2.6, lineDash: [10, 6] },
        clipPath: { type: 'rect', shape: { x: cs.x, y: cs.y, width: cs.width, height: cs.height } }
      };
    }
  });
  series.push({
    type: 'scatter', name: 'Start', xAxisIndex: gi, yAxisIndex: gi, data: [startPoint],
    symbol: 'circle', symbolSize: 11, itemStyle: { color: '#000' }, silent: true, z: 4
  });
  if (gi === 0) addTraj('Expert', expertTrajs, gi, COLORS.expert, 3, 5);
  if (gi === 1) { addTraj('Success', baselineSuccess, gi, COLORS.success, 2.3, 5); addTraj('Collision', baselineCollision, gi, COLORS.collision, 1.1, 6); }
  if (gi === 2) { addTraj('Success', guidedSuccess, gi, COLORS.success, 2.3, 5); addTraj('Collision', guidedCollision, gi, COLORS.collision, 1.1, 6); }
  series.push({
    type: 'scatter', name: 'Target', xAxisIndex: gi, yAxisIndex: gi, data: [targetPoint],
    symbol: X_THICK, symbolSize: 16, silent: true, z: 8,
    itemStyle: { color: COLORS.target }
  });
}

const titleStyle = { fontFamily: FONT, fontSize: 22, fontWeight: 'normal', color: '#111' };
const titles = panelTitles.map((t, i) => ({ text: t, left: gridLefts[i] + 204, top: 9, textAlign: 'center', padding: 0, textStyle: titleStyle }));
successRateTexts.forEach((t, i) => { if (t) titles.push({ text: t, left: gridLefts[i] + 204, top: 398, textAlign: 'center', padding: 0, textStyle: titleStyle }); });

const legendText = { fontFamily: FONT, fontSize: 21, color: '#111' };
const legendSpecs = [
  { name: 'Expert', left: 247, top: 450, icon: 'rect', w: 46, h: 5, style: { color: '#e3edd2' }, gap: 10 },
  { name: 'Success', left: 410, top: 450, icon: 'rect', w: 48, h: 5, style: { color: '#d0b7dd' }, gap: 10 },
  { name: 'Collision', left: 578, top: 450, icon: 'rect', w: 49, h: 5, style: { color: '#f1aca2' }, gap: 10 },
  { name: 'Start', left: 777, top: 450, icon: 'circle', w: 15, h: 15, style: { color: '#000' }, gap: 24 },
  { name: 'Target', left: 925, top: 448, icon: X_THIN, w: 19, h: 19, style: { color: 'none', borderColor: '#2aab92', borderWidth: 1.5 }, gap: 24 }
];
const legends = legendSpecs.map(s => ({
  data: [{ name: s.name, icon: s.icon, itemStyle: s.style }],
  left: s.left, top: s.top, padding: 0, itemWidth: s.w, itemHeight: s.h, selectedMode: false,
  textStyle: Object.assign({ padding: [0, 0, 0, s.gap] }, legendText)
}));

const chart = echarts.init(document.getElementById('c'), null, { renderer: 'canvas' });
chart.setOption({
  animation: false,
  backgroundColor: '#fff',
  title: titles,
  legend: legends,
  grid: grids,
  xAxis: xAxes,
  yAxis: yAxes,
  series
});
</script>
</body></html>
